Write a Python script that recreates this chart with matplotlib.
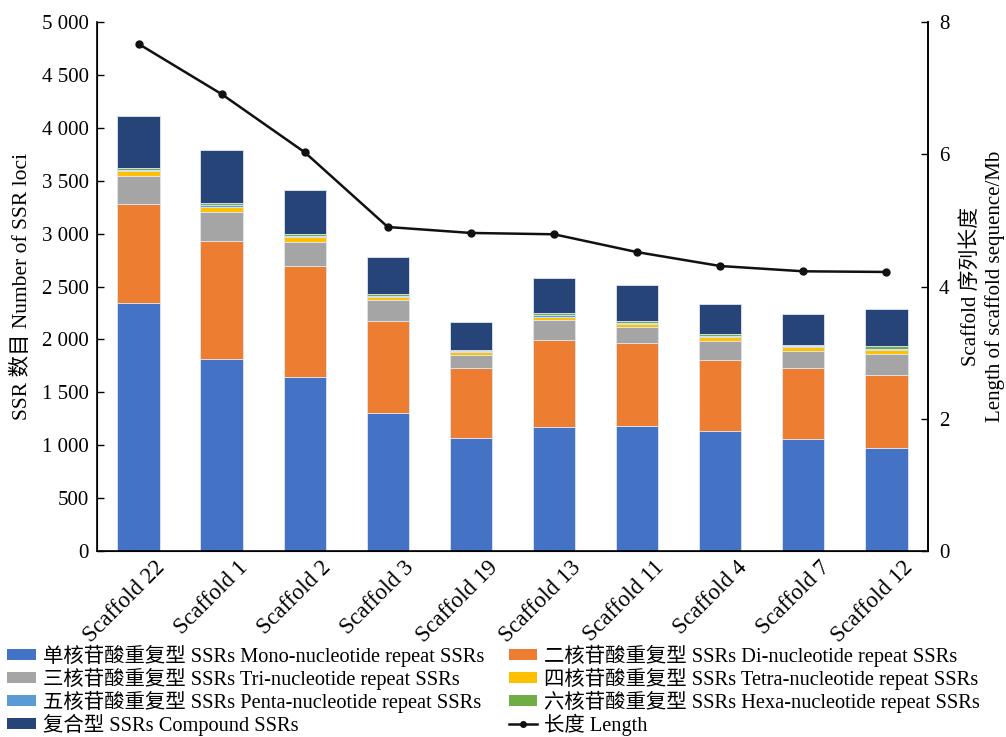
import matplotlib
matplotlib.use("Agg")
import matplotlib.pyplot as plt
import matplotlib.transforms as mtransforms
from matplotlib.patches import Patch
from matplotlib.lines import Line2D
from matplotlib.ticker import FuncFormatter, MultipleLocator
import numpy as np

plt.rcParams['font.family'] = ['Liberation Serif', 'Noto Sans CJK SC', 'DejaVu Sans']
plt.rcParams['axes.unicode_minus'] = False

scaffolds = ["Scaffold 22", "Scaffold 1", "Scaffold 2", "Scaffold 3", "Scaffold 19",
             "Scaffold 13", "Scaffold 11", "Scaffold 4", "Scaffold 7", "Scaffold 12"]

mono = [2340, 1815, 1642, 1302, 1071, 1175, 1184, 1134, 1056, 976]
di = [940, 1118, 1052, 875, 656, 819, 779, 671, 677, 688]
tri = [264, 271, 229, 195, 126, 189, 151, 180, 157, 201]
tetra = [50, 50, 42, 30, 28, 32, 32, 41, 38, 38]
penta = [8, 15, 12, 8, 8, 13, 10, 10, 6, 8]
hexa = [20, 22, 16, 16, 10, 19, 16, 12, 13, 22]
compound = [490, 498, 419, 353, 262, 331, 340, 284, 296, 353]

length_mb = [7.67, 6.91, 6.03, 4.90, 4.81, 4.79, 4.52, 4.31, 4.23, 4.22]

series = [
    ("单核苷酸重复型 SSRs Mono-nucleotide repeat SSRs", mono, "#4472C4"),
    ("二核苷酸重复型 SSRs Di-nucleotide repeat SSRs", di, "#ED7D31"),
    ("三核苷酸重复型 SSRs Tri-nucleotide repeat SSRs", tri, "#A5A5A5"),
    ("四核苷酸重复型 SSRs Tetra-nucleotide repeat SSRs", tetra, "#FFC000"),
    ("五核苷酸重复型 SSRs Penta-nucleotide repeat SSRs", penta, "#5B9BD5"),
    ("六核苷酸重复型 SSRs Hexa-nucleotide repeat SSRs", hexa, "#70AD47"),
    ("复合型 SSRs Compound SSRs", compound, "#264478"),
]
length_label = "长度 Length"

fig = plt.figure(figsize=(10.06, 7.37), dpi=100)
ax = fig.add_axes([0.0964, 0.2524, 0.826, 0.7177])

x = np.arange(len(scaffolds))
bottom = np.zeros(len(scaffolds))
handles = {}
for name, vals, color in series:
    vals = np.array(vals, dtype=float)
    ax.bar(x, vals, width=0.51, bottom=bottom, color=color,
           edgecolor="#dfe6f0", linewidth=0.6)
    bottom += vals
    handles[name] = Patch(facecolor=color, edgecolor="none")

ax.set_xlim(-0.5, len(scaffolds) - 0.5)
ax.set_ylim(0, 5000)
ax.yaxis.set_major_locator(MultipleLocator(500))
ax.yaxis.set_major_formatter(FuncFormatter(lambda v, p: f"{int(v):,}".replace(",", " ")))
ax.tick_params(axis="y", direction="in", length=5, width=1, labelsize=15, pad=6)
ax.tick_params(axis="x", length=0, labelsize=16.5, pad=2)
ax.set_xticks(x)
ax.set_xticklabels(scaffolds, rotation=45, ha="right", va="top", rotation_mode="anchor")
offset = mtransforms.ScaledTranslation(0.16, -0.03, fig.dpi_scale_trans)
for lab in ax.get_xticklabels():
    lab.set_transform(lab.get_transform() + offset)

ax.spines["top"].set_visible(False)
for s in ("left", "bottom", "right"):
    ax.spines[s].set_linewidth(1.2)
ax.set_ylabel("SSR 数目 Number of SSR loci", fontsize=15.5, labelpad=7)

ax2 = ax.twinx()
ax2.plot(x, length_mb, color="#111111", linewidth=1.8, marker="o", markersize=5)
ax2.set_ylim(0, 8)
ax2.yaxis.set_major_locator(MultipleLocator(2))
ax2.tick_params(axis="y", direction="in", length=5, width=1, labelsize=15, pad=8)
ax2.spines["top"].set_visible(False)
ax2.spines["right"].set_linewidth(1.2)
ax2.set_ylabel("Scaffold 序列长度\nLength of scaffold sequence/Mb", fontsize=15,
               labelpad=8, linespacing=1.3)

names = [s[0] for s in series]
order = [names[0], names[2], names[4], names[6], names[1], names[3], names[5]]
hl = [handles[n] for n in order]
line_handle = Line2D([0], [0], color="#111111", linewidth=1.8, marker="o", markersize=4)
hl.append(line_handle)
labels = order + [length_label]
fig.legend(hl, labels, loc="lower left", bbox_to_anchor=(0.003, -0.004), ncol=2,
           frameon=False, fontsize=14.7, handlelength=1.4, handleheight=0.45,
           handletextpad=0.35, columnspacing=1.2, labelspacing=0.04,
           borderaxespad=0.0, borderpad=0.2)

fig.savefig("out.png", dpi=100)
